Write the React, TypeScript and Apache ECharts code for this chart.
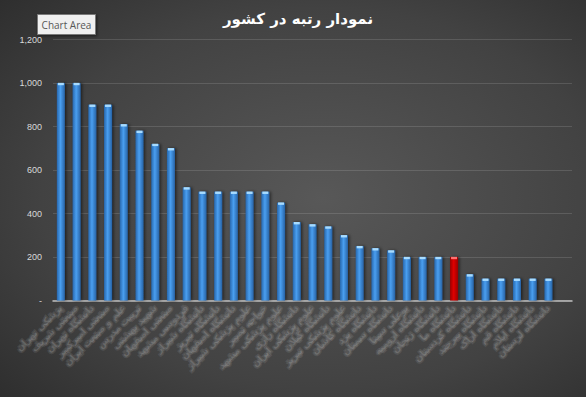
import React, { useEffect, useRef } from "react";
import * as echarts from "echarts";

const chartTitle = "نمودار رتبه در کشور";
const tooltipText = "Chart Area";

// category labels are blurred in the reference; placeholders of similar length
const categories = [
  "پزشکی تهران",
  "صنعتی شریف",
  "دانشگاه تهران",
  "صنعتی امیرکبیر",
  "علم و صنعت ایران",
  "تربیت مدرس",
  "شهید بهشتی",
  "صنعتی اصفهان",
  "فردوسی مشهد",
  "دانشگاه شیراز",
  "دانشگاه تبریز",
  "دانشگاه اصفهان",
  "علوم پزشکی شیراز",
  "خواجه نصیر",
  "علوم پزشکی مشهد",
  "دانشگاه رازی",
  "علوم پزشکی ایران",
  "دانشگاه گیلان",
  "علوم پزشکی تبریز",
  "دانشگاه کاشان",
  "دانشگاه یزد",
  "دانشگاه سمنان",
  "بوعلی سینا",
  "دانشگاه ارومیه",
  "دانشگاه زنجان",
  "دانشگاه ما",
  "دانشگاه کردستان",
  "دانشگاه بیرجند",
  "دانشگاه اراک",
  "دانشگاه قم",
  "دانشگاه ایلام",
  "دانشگاه لرستان",
  "",
];

const values: (number | null)[] = [
  1000, 1000, 900, 900, 810, 780, 720, 700, 520, 500, 500, 500, 500, 500, 450,
  360, 350, 340, 300, 250, 240, 230, 200, 200, 200, 200, 120, 100, 100, 100,
  100, 100, null,
];

const highlightIndex = 25;
const yMin = 0;
const yMax = 1200;
const yStep = 200;

const blueBody = {
  type: "linear",
  x: 0, y: 0, x2: 1, y2: 0,
  colorStops: [
    { offset: 0, color: "#2767ad" },
    { offset: 0.45, color: "#4a9ff0" },
    { offset: 1, color: "#2763a6" },
  ],
};
const redBody = {
  type: "linear",
  x: 0, y: 0, x2: 1, y2: 0,
  colorStops: [
    { offset: 0, color: "#9a0000" },
    { offset: 0.45, color: "#e00000" },
    { offset: 1, color: "#990000" },
  ],
};

export default function App() {
  const ref = useRef<HTMLDivElement>(null);

  useEffect(() => {
    if (!ref.current) return;
    const chart = echarts.init(ref.current, undefined, { renderer: "svg" });

    const barData = values.map((v, i) =>
      i === highlightIndex
        ? { value: v, itemStyle: { color: redBody } }
        : { value: v }
    );
    const capData = values.map((v, i) =>
      i === highlightIndex
        ? { value: v, itemStyle: { color: "#ff7070" } }
        : { value: v }
    );

    chart.setOption({
      animation: false,
      backgroundColor: {
        type: "radial",
        x: 0.55,
        y: 0.5,
        r: 0.8,
        colorStops: [
          { offset: 0, color: "#585858" },
          { offset: 0.6, color: "#424242" },
          { offset: 1, color: "#2a2a2a" },
        ],
      },
      title: {
        text: chartTitle,
        left: 293,
        textAlign: "center",
        top: 6,
        textStyle: {
          color: "#ffffff",
          fontSize: 15,
          fontWeight: "bold",
          fontFamily: "DejaVu Sans",
        },
      },
      grid: {
        left: 53,
        right: 14,
        top: 39.5,
        bottom: 96.5,
        containLabel: false,
        outerBoundsMode: "none",
      },
      xAxis: {
        type: "category",
        data: categories,
        axisLine: { show: true, lineStyle: { color: "#bfbfbf", width: 1.5 } },
        axisTick: { show: false },
        axisLabel: {
          interval: 0,
          rotate: 45,
          margin: 6,
          fontSize: 9,
          fontWeight: "bold",
          fontFamily: "DejaVu Sans",
          color: "rgba(200,200,200,0.22)",
          textBorderColor: "rgba(200,200,200,0.12)",
          textBorderWidth: 3,
        },
      },
      yAxis: {
        type: "value",
        min: yMin,
        max: yMax,
        interval: yStep,
        axisLine: { show: false },
        axisTick: { show: false },
        splitLine: { lineStyle: { color: "rgba(255,255,255,0.13)", width: 1 } },
        axisLabel: {
          margin: 11,
          fontSize: 9,
          fontFamily: "Liberation Sans",
          color: "#d9d9d9",
          formatter: (v: number) => (v === 0 ? "-" : v.toLocaleString("en-US")),
        },
      },
      series: [
        {
          type: "bar",
          data: barData,
          barWidth: 8,
          itemStyle: {
            color: blueBody,
            shadowColor: "rgba(0,0,0,0.55)",
            shadowBlur: 3,
            shadowOffsetX: 1.5,
            shadowOffsetY: 0,
          },
        },
        {
          type: "pictorialBar",
          data: capData,
          symbol: "rect",
          symbolSize: [6, 2.5],
          symbolPosition: "end",
          symbolOffset: [0, "-10%"],
          z: 3,
          itemStyle: { color: "#a8dcff" },
        },
      ],
      graphic: [
        {
          type: "group",
          left: 37,
          top: 14,
          children: [
            {
              type: "rect",
              shape: { x: 0, y: 0, width: 58, height: 20 },
              style: {
                fill: "#f0f0f0",
                stroke: "#7a7a7a",
                lineWidth: 1,
                shadowColor: "rgba(0,0,0,0.5)",
                shadowBlur: 3,
                shadowOffsetX: 1,
                shadowOffsetY: 1,
              },
            },
            {
              type: "text",
              x: 29,
              y: 10,
              style: {
                text: tooltipText,
                fill: "#575757",
                fontSize: 10,
                fontFamily: "Open Sans",
                align: "center",
                verticalAlign: "middle",
              },
            },
          ],
        },
      ],
    });

    return () => chart.dispose();
  }, []);

  return (
    <div
      ref={ref}
      style={{ position: "absolute", left: 0, top: 0, width: 586, height: 397 }}
    />
  );
}
